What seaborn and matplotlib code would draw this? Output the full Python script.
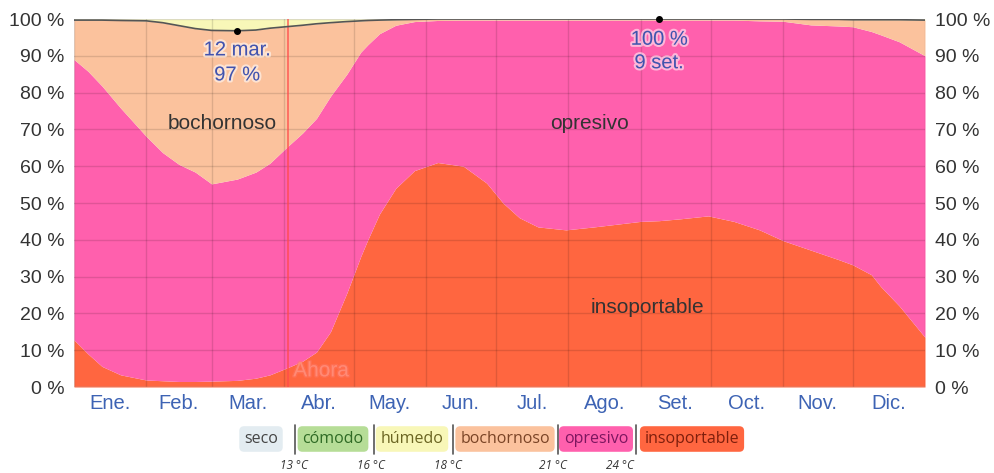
import numpy as np
import pandas as pd
import matplotlib
matplotlib.use("Agg")
import matplotlib.pyplot as plt
import matplotlib.patheffects as pe
from matplotlib.lines import Line2D
import seaborn as sns

# Day of year (0 = 1 Jan) at which the shares were read
dias = [0, 6, 12, 20, 31, 38, 45, 52, 59, 70, 78, 84, 91, 98, 104, 110, 117, 123,
        126, 131, 138, 146, 156, 167, 177, 184, 191, 199, 211, 223, 243, 251, 260,
        272, 283, 294, 304, 316, 328, 334, 342, 346, 354, 365]

# Percentage of time at "insoportable"
pct_insoportable = [12.8, 9.0, 5.6, 3.3, 1.9, 1.7, 1.5, 1.5, 1.6, 1.8, 2.4, 3.3, 5.1,
                    7.0, 9.5, 15.0, 25.5, 35.5, 40.0, 47.0, 54.0, 58.8, 61.0, 60.0,
                    55.4, 50.0, 46.0, 43.5, 42.7, 43.5, 45.0, 45.2, 45.7, 46.5, 45.0,
                    42.7, 39.8, 37.2, 34.6, 33.2, 30.5, 27.3, 22.0, 13.5]

# Percentage of time at "opresivo" or worse
pct_opresivo_o_mas = [89.0, 85.8, 81.8, 75.8, 68.1, 63.7, 60.5, 58.4, 55.2, 56.5, 58.4,
                      60.8, 65.0, 69.0, 73.0, 79.0, 85.0, 91.0, 93.0, 96.0, 98.3, 99.3,
                      99.6, 99.7, 99.7, 99.7, 99.7, 99.7, 99.7, 99.7, 99.7, 99.7, 99.7,
                      99.7, 99.7, 99.5, 99.4, 98.4, 98.1, 97.9, 96.6, 95.7, 93.8, 90.0]

# Percentage of time at "bochornoso" or worse (the dark line)
pct_bochornoso_o_mas = [99.7, 99.7, 99.7, 99.6, 99.5, 99.0, 98.2, 97.4, 96.9, 96.8, 97.0,
                        97.5, 97.9, 98.3, 98.7, 99.0, 99.3, 99.5, 99.6, 99.7, 99.8, 99.9,
                        100.0, 100.0, 100.0, 100.0, 100.0, 100.0, 100.0, 100.0, 100.0,
                        100.0, 100.0, 100.0, 100.0, 100.0, 100.0, 99.9, 99.9, 99.8, 99.8,
                        99.8, 99.8, 99.7]

meses = ["Ene.", "Feb.", "Mar.", "Abr.", "May.", "Jun.", "Jul.", "Ago.", "Set.",
         "Oct.", "Nov.", "Dic."]
inicio_mes = [0, 31, 59, 90, 120, 151, 181, 212, 243, 273, 304, 334, 365]

categorias = ["seco", "cómodo", "húmedo", "bochornoso", "opresivo", "insoportable"]
umbrales = ["13 °C", "16 °C", "18 °C", "21 °C", "24 °C"]

# Marked extremes of the dark line
min_dia, min_valor, min_texto = 70, 96.8, "12 mar.\n97 %"
max_dia, max_valor, max_texto = 251, 100.0, "100 %\n9 set."
dia_ahora = 92

col = {
    "seco": "#e3ecf1",
    "cómodo": "#b6dd97",
    "húmedo": "#f8f7b8",
    "bochornoso": "#fbc29d",
    "opresivo": "#ff60ad",
    "insoportable": "#ff6640",
}
col_texto = {
    "seco": "#444444",
    "cómodo": "#2f6b25",
    "húmedo": "#6b6522",
    "bochornoso": "#7a4426",
    "opresivo": "#7d1660",
    "insoportable": "#7d1e0c",
}

df = pd.DataFrame({
    "dia": dias,
    "insoportable": pct_insoportable,
    "opresivo": pct_opresivo_o_mas,
    "bochornoso": pct_bochornoso_o_mas,
})

sns.set_theme(style="white")
plt.rcParams["font.family"] = ["Liberation Sans", "DejaVu Sans"]

fig = plt.figure(figsize=(9.94, 4.73), dpi=100)
ax = fig.add_axes([74 / 994, 86 / 473, 851 / 994, 368 / 473])

x = df["dia"].to_numpy()
ax.fill_between(x, 0, df["insoportable"], color=col["insoportable"], lw=0, zorder=1)
ax.fill_between(x, df["insoportable"], df["opresivo"], color=col["opresivo"], lw=0, zorder=1)
ax.fill_between(x, df["opresivo"], df["bochornoso"], color=col["bochornoso"], lw=0, zorder=1)
ax.fill_between(x, df["bochornoso"], 100, color=col["húmedo"], lw=0, zorder=1)

sns.lineplot(data=df, x="dia", y="bochornoso", ax=ax, color="#555555", lw=1.2,
             zorder=4, legend=False)

ax.set_xlim(0, 365)
ax.set_ylim(0, 100)

# month boundaries as grid, month names in the middle
ax.set_xticks(inicio_mes)
ax.set_xticklabels([])
mitad = [(inicio_mes[i] + inicio_mes[i + 1]) / 2 for i in range(12)]
ax.set_xticks(mitad, minor=True)
ax.set_xticklabels(meses, minor=True)
ax.tick_params(axis="x", which="both", length=0, pad=5)
ax.tick_params(axis="x", which="minor", labelsize=14.5, labelcolor="#3d63b4")

yt = list(range(0, 101, 10))
ax.set_yticks(yt)
ax.set_yticklabels([f"{v} %" for v in yt])
ax.tick_params(axis="y", length=0, labelsize=14, labelcolor="#333333", pad=7,
               labelleft=True, labelright=True)

ax.grid(True, which="major", color="black", alpha=0.12, lw=1)
ax.set_axisbelow(False)
for g in ax.get_xgridlines() + ax.get_ygridlines():
    g.set_zorder(3)
for s in ax.spines.values():
    s.set_visible(False)
ax.axhline(0, color="#bbbbbb", lw=1, zorder=3)
ax.set_xlabel("")
ax.set_ylabel("")

# current date marker
ax.axvline(dia_ahora, color="#ff4a4a", lw=1.2, alpha=0.8, zorder=3)
ax.text(dia_ahora + 14, 4.4, "Ahora", ha="center", va="center", fontsize=15,
        color="#ff8a76", zorder=5,
        path_effects=[pe.withStroke(linewidth=2, foreground="#ff7a6a", alpha=0.4)])

# extremes of the dark line
ax.plot([min_dia, max_dia], [min_valor, max_valor], "o", color="black", ms=4, zorder=5,
        clip_on=False)
halo = [pe.withStroke(linewidth=3, foreground="white", alpha=0.55)]
ax.text(min_dia, 88.2, min_texto, ha="center", va="center", fontsize=14.5,
        color="#4253ad", linespacing=1.4, path_effects=halo, zorder=6)
ax.text(max_dia, 91.3, max_texto, ha="center", va="center", fontsize=14.5,
        color="#4253ad", linespacing=1.3, path_effects=halo, zorder=6)

# band names
ax.text(63.5, 71.7, "bochornoso", ha="center", va="center", fontsize=15,
        color="#333333", zorder=6)
ax.text(221, 71.7, "opresivo", ha="center", va="center", fontsize=15,
        color="#333333", zorder=6)
ax.text(246, 21.7, "insoportable", ha="center", va="center", fontsize=15,
        color="#333333", zorder=6)

# legend strip with temperature thresholds
W, H = 994, 473
centros = [261, 333, 412, 505, 596, 692]
separadores = [295, 374, 453, 558, 636]
centros_umbral = [294, 371, 448, 553, 620]
for c, cx in zip(categorias, centros):
    fig.text(cx / W, 1 - 439 / H, c, ha="center", va="center", fontsize=11.5,
             family=["Open Sans", "DejaVu Sans"], color=col_texto[c],
             bbox=dict(boxstyle="round,pad=0.3,rounding_size=0.3", fc=col[c], ec="none"))
for sx in separadores:
    fig.add_artist(Line2D([sx / W, sx / W], [1 - 425 / H, 1 - 454 / H],
                          transform=fig.transFigure, color="#555555", lw=1.2))
for u, ux in zip(umbrales, centros_umbral):
    fig.text(ux / W, 1 - 465 / H, u, ha="center", va="center", fontsize=8.5,
             style="italic", family=["Open Sans", "DejaVu Sans"], color="#333333")

fig.savefig("out.png", dpi=100)
